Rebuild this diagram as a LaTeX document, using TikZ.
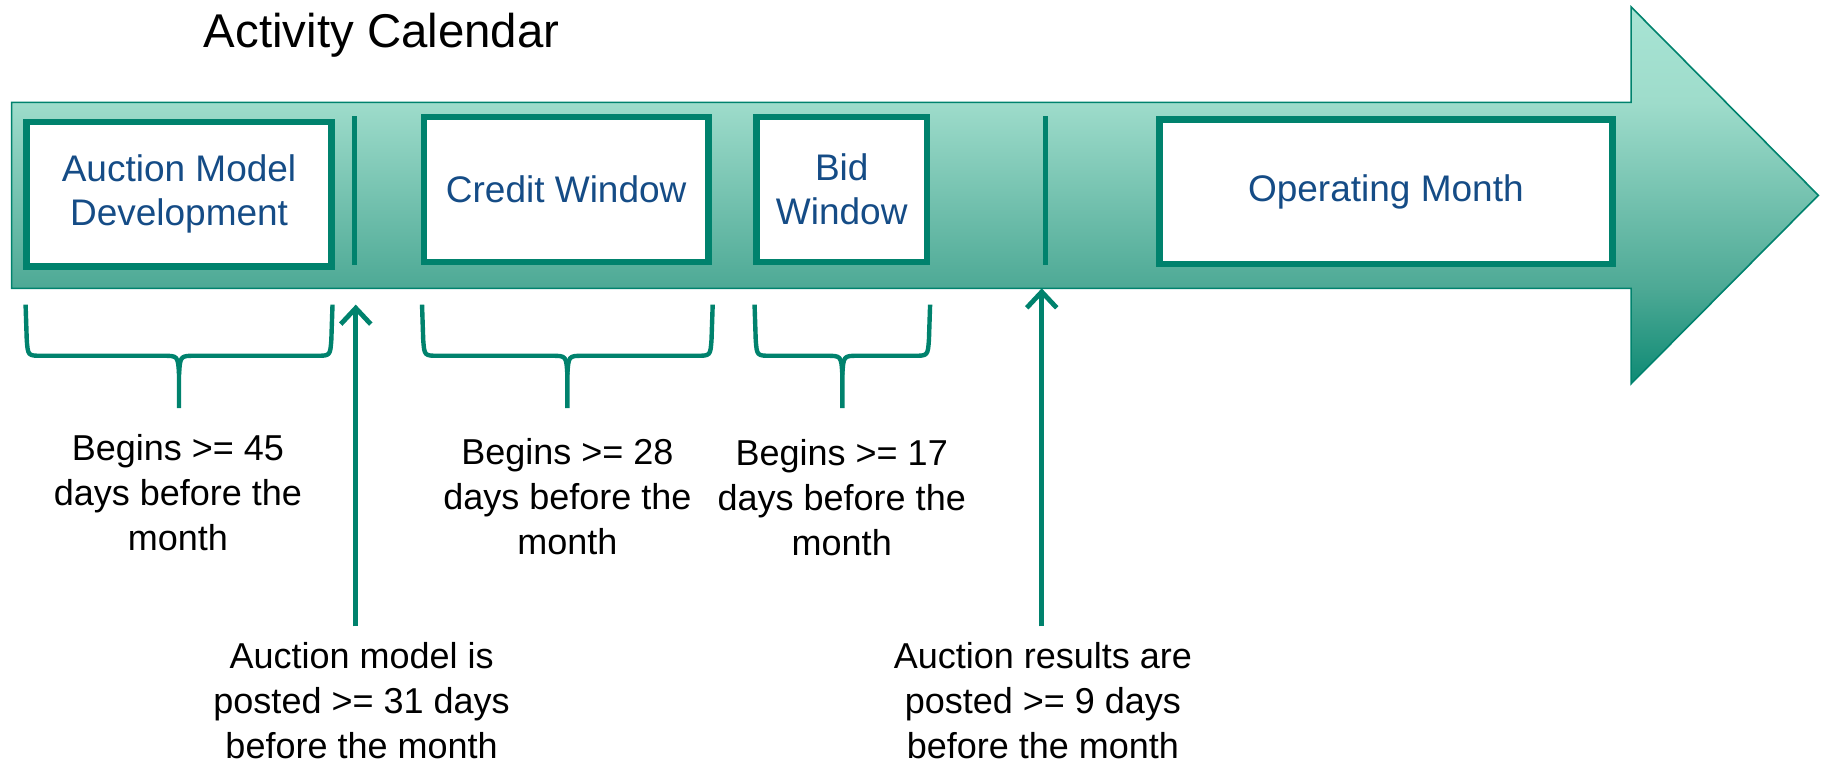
\documentclass[tikz,border=0pt]{standalone}
\usepackage{fontspec}
\setmainfont{Liberation Sans}
\definecolor{pine}{HTML}{00826D}
\definecolor{ink}{HTML}{154C86}
\definecolor{seaTop}{HTML}{A8E4D4}
\definecolor{seaHigh}{HTML}{9EDCCB}
\definecolor{seaLow}{HTML}{4DA995}
\definecolor{seaDeep}{HTML}{0E8A74}
\usetikzlibrary{positioning, arrows.meta}
\pgfdeclareverticalshading{timeline}{100bp}{color(0bp)=(seaDeep); color(25bp)=(seaDeep); color(37.65bp)=(seaLow); color(62.35bp)=(seaHigh); color(75bp)=(seaTop); color(100bp)=(seaTop)}

\begin{document}
\begin{tikzpicture}[
  x=0.5813pt, y=-0.5813pt,
  stagebox/.style={draw=pine, line width=3.2pt, fill=white, minimum height=72.4pt, inner sep=0pt, align=center, font=\fontsize{18.5}{22}\selectfont\color{ink}},
  note/.style={align=center, font=\fontsize{18}{22.5}\selectfont, inner sep=2pt},
  brace/.style={draw=pine, line width=2.2pt, line join=round},
  post/.style={draw=pine, line width=2.4pt, -{Straight Barb[length=8pt,width=15pt]}, shorten <=6pt},
  divider/.style={draw=pine, line width=2.5pt},
]
\useasboundingbox (0,0) rectangle (1568,657);

% Title
\node[font=\fontsize{23.7}{28}\selectfont, anchor=base west, inner sep=0pt] (title) at (175,41) {Activity Calendar};

% Timeline arrow
\shadedraw[shading=timeline, draw=pine, line width=0.8pt] (10,88) -- (1403,88) -- (1403,6) -- (1564,168) -- (1403,330) -- (1403,248) -- (10,248) -- cycle;

% Stages
\node[stagebox, minimum width=152.6pt] (model) at (154,167) {Auction Model\\Development};
\node[stagebox, minimum width=142.1pt] (credit) at (487,163) {Credit Window};
\node[stagebox, minimum width=85.2pt] (bid) at (724,163) {Bid\\Window};
\node[stagebox, minimum width=226.5pt] (operating) at (1192,165) {Operating Month};

% Dividers
\draw[divider] (305,100) -- (305,228);
\draw[divider] (899,100) -- (899,228);

% Braces
\foreach \l/\r in {22/286, 363/613, 649/800} {
  \pgfmathsetmacro{\bx}{(\l+\r)/2}
  \draw[brace] (\l,262) -- (\l+1,292) .. controls (\l+2,306) .. (\l+14,306) -- (\bx-14,306) .. controls (\bx-1,306) .. (\bx,322) -- (\bx,351);
  \draw[brace] (\bx,322) .. controls (\bx+1,306) .. (\bx+14,306) -- (\r-14,306) .. controls (\r-2,306) .. (\r-1,292) -- (\r,262);
}

% Notes
\node[note] (lblModel) at (153,424) {Begins >= 45\\days before the\\month};
\node[note] (lblCredit) at (488,427) {Begins >= 28\\days before the\\month};
\node[note] (lblBid) at (724,428) {Begins >= 17\\days before the\\month};
\node[note] (lblPosted) at (311,603) {Auction model is\\posted >= 31 days\\before the month};
\node[note] (lblResults) at (897,603) {Auction results are\\posted >= 9 days\\before the month};

% Posting arrows
\coordinate (postTip) at (306,262);
\coordinate (resultTip) at (896,248);
\draw[post] (lblPosted.north -| postTip) -- (postTip);
\draw[post] (lblResults.north -| resultTip) -- (resultTip);
\end{tikzpicture}
\end{document}
